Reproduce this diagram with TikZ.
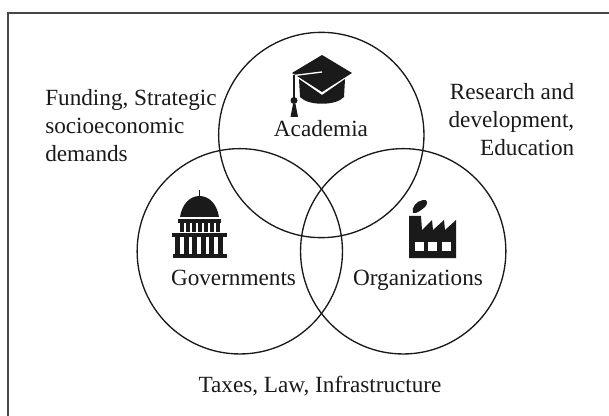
\documentclass[tikz,border=0pt]{standalone}
\usepackage{fontspec}
\setmainfont{Liberation Serif}
\definecolor{ink}{HTML}{1A1A1A}
\tikzset{
  px/.style={x=0.75pt,y=-0.75pt},
  venn/.style={draw=ink,line width=1pt,circle,minimum size=154pt,inner sep=0pt},
  frame/.style={draw=ink!80,line width=1.4pt},
  lbl/.style={font=\fontsize{17.4pt}{20.8pt}\selectfont,text=ink,inner sep=0pt,align=center},
  icon/.style={fill=ink,draw=none},
  gap/.style={fill=white,draw=none}
}
\begin{document}
\begin{tikzpicture}[px]
\useasboundingbox (0,0) rectangle (609,416);
\fill[white] (0,0) rectangle (609,416);
\draw[frame] (8,416) -- (8,13) -- (609,13);
\node[venn] (A) at (321.3,135) {};
\node[venn] (G) at (239.8,251.3) {};
\node[venn] (O) at (403.2,251.3) {};
\node[lbl,align=left,anchor=west] (t1) at (45,125.5) {Funding, Strategic\\socioeconomic\\demands};
\node[lbl,align=right,anchor=east] (t2) at (574.5,119.5) {Research and\\development,\\Education};
\node[lbl,anchor=base] (t3) at (321,137) {Academia};
\node[lbl,anchor=base] (t4) at (233.5,285) {Governments};
\node[lbl,anchor=base] (t5) at (418,285) {Organizations};
\node[lbl,anchor=base] (t6) at (320,392) {Taxes, Law, Infrastructure};
% cap
\fill[icon] (299,79) -- (322,95) -- (345,79) -- (344,97) .. controls (336,106) and (308,106) .. (300,97) -- cycle;
\fill[icon] (322,55) -- (352,73) -- (322,92) -- (297,76) -- (292,73) -- cycle;
\draw[white,line width=1pt] (294,75.5) -- (322,72);
\fill[icon] (293,75) rectangle (295,98);
\fill[icon] (294,100.5) circle (3.5);
\fill[icon] (293,104) -- (295.5,104) -- (298,117) -- (290.5,117) -- cycle;
% capitol
\fill[icon] (198.5,190) rectangle (200,198);
\fill[icon] (180,217) .. controls (182,204) and (190,196) .. (199.5,196) .. controls (209,196) and (217,204) .. (219,217) -- cycle;
\fill[icon] (178,219) rectangle (221,223);
\foreach \x in {180,186,192,198,204,210,216}{\fill[icon] (\x,223) rectangle (\x+3.6,232);}
\fill[icon] (172,233.5) rectangle (227,237.5);
\foreach \x in {175,183.5,192,200.5,209,217.5}{\fill[icon] (\x,237) rectangle (\x+5,255);}
\fill[icon] (173,254) rectangle (227,258);
% factory
\fill[icon] (409,258) -- (409,216) -- (421,216) -- (422,230) -- (432,220) -- (433,230) -- (444,220) -- (445,230) -- (456,220) -- (456,258) -- cycle;
\fill[gap] (415,242) rectangle (424,251);
\fill[gap] (428,242) rectangle (437,251);
\fill[gap] (441.5,242) rectangle (450.5,251);
\fill[icon] (413,213) .. controls (411,208) and (416,201) .. (423,200) .. controls (428,199) and (428,204) .. (425,207) .. controls (421,210) and (417,214) .. (413,213) -- cycle;
\end{tikzpicture}
\end{document}
